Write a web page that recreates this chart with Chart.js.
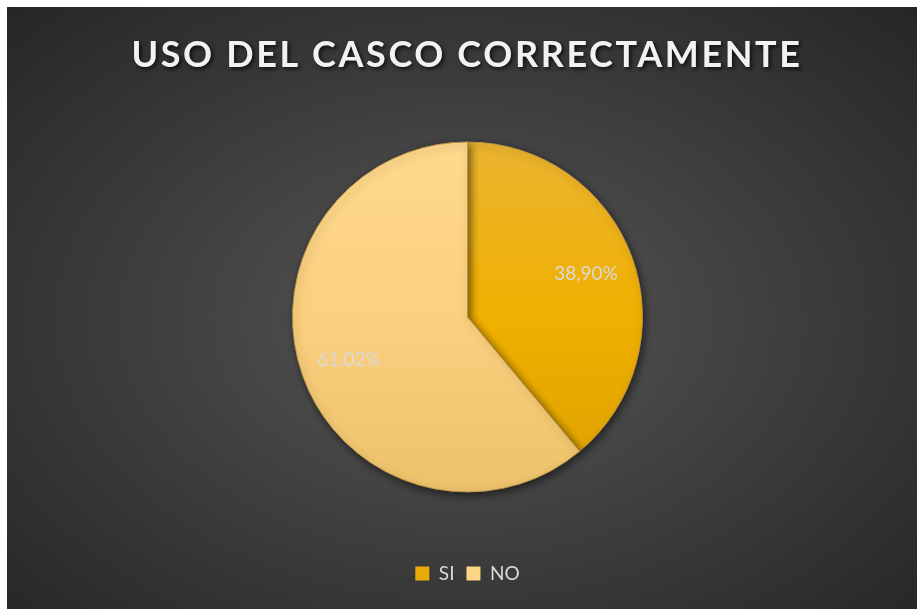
<!DOCTYPE html>
<html>
<head>
<meta charset="utf-8">
<script src="https://cdn.jsdelivr.net/npm/chart.js@4"></script>
<style>
  html, body { margin: 0; padding: 0; background: #fff; }
  .frame {
    position: absolute; left: 7px; top: 7px; width: 910px; height: 602px;
    background: radial-gradient(ellipse farthest-corner at 50% 52%, #575757 0%, #3e3e3e 50%, #262626 100%);
  }
  canvas { display: block; }
</style>
</head>
<body>
<div class="frame"><canvas id="pieChart" width="910" height="602"></canvas></div>
<script>
const categories = ['SI', 'NO'];
const percentValues = [38.90, 61.02];
const percentLabels = ['38,90%', '61,02%'];
const chartTitle = 'USO DEL CASCO CORRECTAMENTE';

// top / middle / bottom colour of each slice gradient
const sliceTop = ['#ebb430', '#ffd98c'];
const sliceMid = ['#f0b000', '#fbd07f'];
const sliceBottom = ['#dca000', '#ecc26b'];
const legendColors = ['#e9aa05', '#fcd587'];
const pieRadius = 175;

function sliceFill(ctx) {
  const i = ctx.dataIndex;
  const area = ctx.chart.chartArea;
  if (!area || !isFinite(area.top) || !isFinite(area.bottom)) return sliceTop[i];
  const cy = (area.top + area.bottom) / 2;
  const g = ctx.chart.ctx.createLinearGradient(0, cy - pieRadius, 0, cy + pieRadius);
  g.addColorStop(0, sliceTop[i]);
  g.addColorStop(0.5, sliceMid[i]);
  g.addColorStop(1, sliceBottom[i]);
  return g;
}

const titlePlugin = {
  id: 'titleText',
  afterDraw(chart) {
    const ctx = chart.ctx;
    ctx.save();
    ctx.font = 'bold 36px Lato';
    ctx.letterSpacing = '2.6px';
    ctx.textAlign = 'center';
    ctx.textBaseline = 'middle';
    ctx.fillStyle = '#f2f2f2';
    ctx.shadowColor = 'rgba(0,0,0,0.75)';
    ctx.shadowBlur = 4;
    ctx.shadowOffsetX = 2;
    ctx.shadowOffsetY = 2;
    ctx.fillText(chartTitle, 460, 48);
    ctx.restore();
  }
};

const shadowPlugin = {
  id: 'pieShadow',
  beforeDatasetsDraw(chart) {
    const ctx = chart.ctx;
    ctx.save();
    ctx.shadowColor = 'rgba(0,0,0,0.55)';
    ctx.shadowBlur = 8;
    ctx.shadowOffsetX = 2;
    ctx.shadowOffsetY = 3;
  },
  afterDatasetsDraw(chart) {
    chart.ctx.restore();
  }
};

const sliceLabels = {
  id: 'sliceLabels',
  afterDatasetsDraw(chart) {
    const ctx = chart.ctx;
    const meta = chart.getDatasetMeta(0);
    ctx.save();
    ctx.font = '19px Lato';
    ctx.fillStyle = '#d9d9d9';
    ctx.textAlign = 'center';
    ctx.textBaseline = 'middle';
    meta.data.forEach((arc, i) => {
      const mid = (arc.startAngle + arc.endAngle) / 2;
      const r = arc.outerRadius * 0.72;
      ctx.fillText(percentLabels[i], arc.x + Math.cos(mid) * r, arc.y + Math.sin(mid) * r);
    });
    ctx.restore();
  }
};

new Chart(document.getElementById('pieChart'), {
  type: 'pie',
  data: {
    labels: categories,
    datasets: [{
      data: percentValues,
      backgroundColor: sliceFill,
      borderColor: 'rgba(190,150,70,0.9)',
      borderWidth: 1,
      radius: pieRadius
    }]
  },
  options: {
    responsive: false,
    animation: false,
    layout: { padding: { top: 75, left: 11, bottom: 16 } },
    plugins: {
      title: { display: false },
      tooltip: { enabled: false },
      legend: {
        position: 'bottom',
        labels: {
          color: '#d9d9d9',
          font: { family: 'Lato', size: 19 },
          boxWidth: 14,
          boxHeight: 14,
          padding: 12,
          generateLabels(chart) {
            return categories.map((c, i) => ({
              text: c, fillStyle: legendColors[i], strokeStyle: legendColors[i], lineWidth: 0,
              fontColor: '#d9d9d9', index: i, hidden: false
            }));
          }
        }
      }
    }
  },
  plugins: [shadowPlugin, sliceLabels, titlePlugin]
});
</script>
</body>
</html>
